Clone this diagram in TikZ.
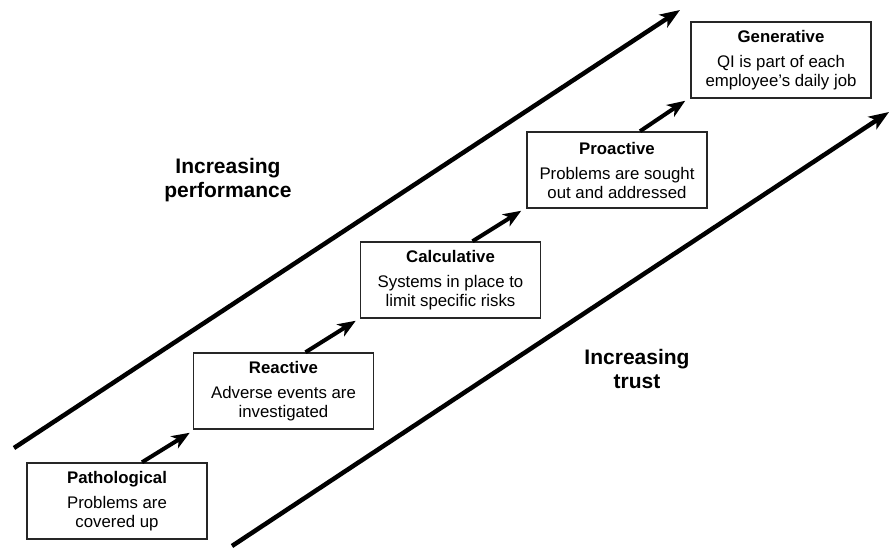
\documentclass[tikz,border=0pt]{standalone}
\usepackage{fontspec}
\setmainfont{Liberation Sans}
\usetikzlibrary{arrows.meta}
\tikzset{
  stage/.style={draw=black!85, line width=1.5pt, fill=white, minimum width=180pt, minimum height=76pt,
    inner sep=0pt, align=center, font=\fontsize{16.8}{19}\selectfont},
  bigarrow/.style={line width=4.5pt, -{Stealth[length=20pt,width=15pt,inset=5pt]}},
  steparrow/.style={line width=4pt, -{Stealth[length=18pt,width=14pt,inset=5pt]}},
  biglabel/.style={align=center, font=\fontsize{21}{24}\selectfont\bfseries}
}
\begin{document}
\begin{tikzpicture}[x=1pt,y=-1pt]
\useasboundingbox[fill=white] (0,0) rectangle (890,549);
% big arrows
\coordinate (pa) at (14,448);
\coordinate (pb) at (680,10);
\coordinate (ta) at (232,546);
\coordinate (tb) at (889,112);
\draw[bigarrow] (pa) -- (pb);
\draw[bigarrow] (ta) -- (tb);
% stages
\node[stage] (path) at (117,501) {\textbf{Pathological}\\[6pt]Problems are\\covered up};
\node[stage] (reac) at (283.5,391) {\textbf{Reactive}\\[6pt]Adverse events are\\investigated};
\node[stage] (calc) at (450.5,280) {\textbf{Calculative}\\[6pt]Systems in place to\\limit specific risks};
\node[stage] (pro) at (617,170) {\textbf{Proactive}\\[6pt]Problems are sought\\out and addressed};
\node[stage] (gen) at (781,60) {\textbf{Generative}\\[6pt]QI is part of each\\employee’s daily job};
% step arrows
\draw[steparrow] ([xshift=25pt]path.north) -- ([xshift=-3pt,yshift=-3pt]reac.south west);
\draw[steparrow] ([xshift=22pt]reac.north) -- ([xshift=-4pt,yshift=-2pt]calc.south west);
\draw[steparrow] ([xshift=22pt]calc.north) -- ([xshift=-5pt,yshift=-2pt]pro.south west);
\draw[steparrow] ([xshift=23pt]pro.north) -- ([xshift=-5pt,yshift=-2pt]gen.south west);
% labels
\node[biglabel] (perf) at (228,180) {Increasing\\performance};
\node[biglabel] (trust) at (637,369) {Increasing\\trust};
\end{tikzpicture}
\end{document}
